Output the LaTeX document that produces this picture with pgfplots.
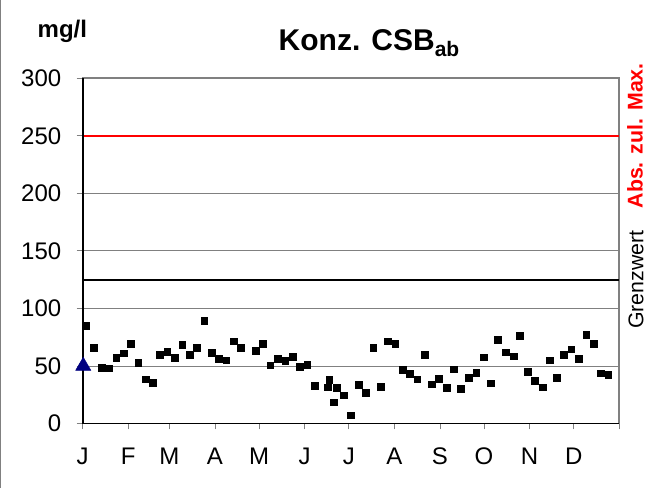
\documentclass[border=0pt]{standalone}
\usepackage{fontspec}
\setmainfont{Liberation Sans}
\usepackage{pgfplots}
\pgfplotsset{compat=1.18}
\definecolor{navy}{HTML}{000080}
\definecolor{framegray}{HTML}{808080}
\definecolor{maxred}{HTML}{FF0000}

\begin{document}
\begin{tikzpicture}[x=1pt,y=1pt]
\useasboundingbox (0,0) rectangle (500.25,366);
\draw[framegray, line width=0.9pt] (0.6,0) -- (0.6,366);
\node[anchor=base west, font=\fontsize{18}{20}\selectfont\bfseries] at (24.75,337.5) {mg/l};
\node[anchor=base west, font=\fontsize{22.5}{26}\selectfont\bfseries] at (205.5,327.75) {Konz. CSB\textsubscript{ab}};
\begin{axis}[
  at={(62pt,48.4pt)}, anchor=south west,
  scale only axis, width=402.5pt, height=258.9pt,
  xmin=0, xmax=365, ymin=0, ymax=300,
  xtick={0,31,59,90,120,151,181,212,243,273,304,334,365},
  xticklabels={J,F,M,A,M,J,J,A,S,O,N,D,},
  ytick={0,50,...,300},
  tick align=outside,
  xtick pos=bottom, ytick pos=left,
  major tick length=4.5pt,
  tick style={framegray, line width=0.6pt},
  ymajorgrids,
  grid style={framegray, line width=0.6pt},
  axis line style={framegray, line width=1.4pt},
  tick label style={font=\fontsize{18}{20}\selectfont},
  /pgf/number format/assume math mode=true,
  xticklabel style={yshift=-10pt},
  yticklabel style={xshift=-8pt},
  clip=false,
]
\addplot[maxred, line width=1.5pt] coordinates {(0,250) (365,250)};
\addplot[black, line width=1.5pt] coordinates {(0,125) (365,125)};
\draw[black, line width=1.3pt] (rel axis cs:0,1) -- (rel axis cs:0,0) -- (rel axis cs:1,0);
\addplot[only marks, mark=square*, mark size=2.5pt, black] coordinates {
(2.2,85) (7.6,66) (12.9,48.5) (17.9,48) (22.9,57) (27.9,61) (32.9,69)
(37.8,53) (42.8,38.5) (47.8,35.5) (52.6,59.5) (57.5,62.5) (62.5,57)
(67.7,68.5) (72.7,59.5) (77.7,65.5) (82.7,89.5) (87.7,61.5) (92.7,56.5)
(97.6,55) (102.6,71.5) (107.6,66) (117.6,63) (122.5,69) (127.5,50.5)
(132.8,56) (137.7,54.5) (142.8,58) (147.7,49.5) (152.7,51) (157.7,33)
(166.6,31.5) (167.7,38) (170.6,18.5) (172.7,31) (177.7,24.5) (182.4,7)
(187.6,33.5) (192.6,26.5) (197.6,65.5) (202.6,32) (207.6,71.5) (212.5,69.5)
(217.5,46.5) (222.5,43) (227.5,38.5) (232.5,59.5) (237.5,34) (242.4,39)
(247.7,31) (252.6,47) (257.2,30) (262.6,39.5) (267.6,44) (272.6,57.5)
(277.6,35) (282.5,72.5) (287.8,62) (293.4,58.5) (297.5,76) (302.5,45)
(307.7,37) (312.7,31.5) (317.5,55) (322.5,39.5) (327.4,59.5) (332.4,64.5)
(337.4,56) (342.4,77) (347.4,69.5) (352.4,43.5) (357.4,42.5)
};
\addplot[only marks, mark=triangle*, mark size=6.5pt, navy] coordinates {(0.4,50)};
\node[rotate=90, text=maxred, font=\fontsize{16}{18}\selectfont\bfseries] at (axis cs:375.7,250) {Abs. zul. Max.};
\node[rotate=90, font=\fontsize{16}{18}\selectfont] at (axis cs:376.4,125) {Grenzwert};
\end{axis}
\end{tikzpicture}
\end{document}
